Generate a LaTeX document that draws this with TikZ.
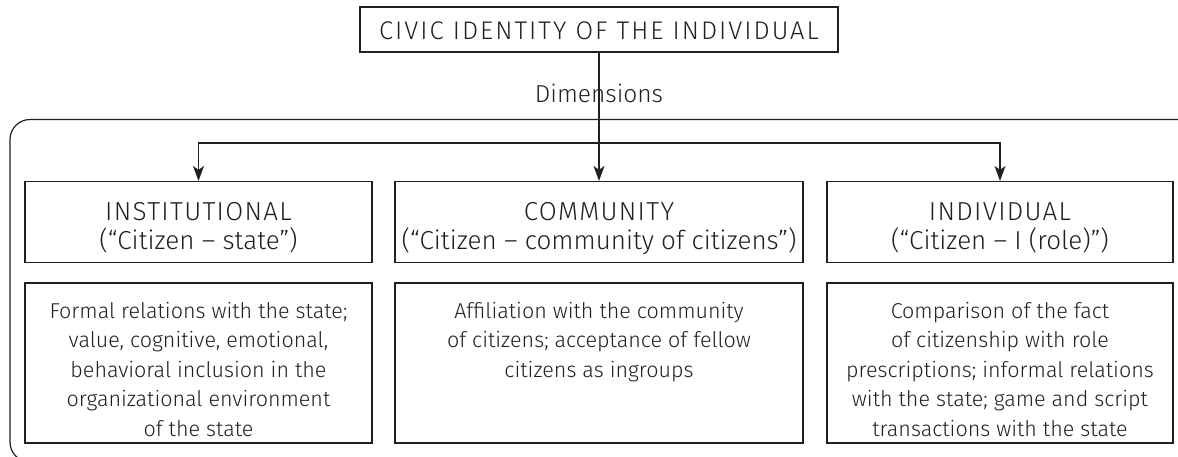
\documentclass[tikz,border=0pt]{standalone}
\usepackage{fontspec}
\setmainfont{Fira Sans Light}
\newfontfamily\capsfont[LetterSpace=8]{Fira Sans Light}
\newfontfamily\capsfontb[LetterSpace=5]{Fira Sans Light}
\usetikzlibrary{arrows.meta}
\definecolor{ink}{HTML}{231F20}
\begin{document}
\begin{tikzpicture}[x=1pt,y=-1pt,
  every node/.style={text=ink,font=\fontsize{20}{30}\selectfont},
  boxs/.style={draw=ink,line width=1.2pt,inner sep=0pt,minimum height=#1},
  txt/.style={align=center,inner sep=0pt,anchor=north},
  head/.style={txt,font=\fontsize{26}{29}\selectfont},
  body/.style={txt,font=\fontsize{21.5}{29.5}\selectfont},
  arr/.style={draw=ink,line width=1.2pt,-{Stealth[length=15pt,width=11pt,inset=4pt]}}]
\useasboundingbox (0,0) rectangle (1178,456);
\begin{scope}
\clip (0,0) rectangle (1178,456);
\draw[draw=ink,line width=1.2pt,rounded corners=20pt] (10,119.5) rectangle (1198,462);
\end{scope}
% top
\node[boxs=45pt,minimum width=478pt] (top) at (599,29.5) {};
\node[anchor=base,inner sep=0pt,font=\capsfont\fontsize{25.5}{27}\selectfont] (topt) at (599,39) {CIVIC IDENTITY OF THE INDIVIDUAL};
\node[anchor=base,inner sep=0pt,font=\fontsize{24.5}{26}\selectfont] (dim) at (599,102) {Dimensions};
% row 1
\node[boxs=81pt,minimum width=347pt] (l1) at (198.5,222) {};
\node[boxs=81pt,minimum width=408pt] (m1) at (599,222) {};
\node[boxs=81pt,minimum width=346pt] (r1) at (1000,222) {};
\node[head] (l1t) at (198.5,202) {{\capsfontb INSTITUTIONAL}\\(“Citizen – state”)};
\node[head] (m1t) at (599,202) {{\capsfontb COMMUNITY}\\(“Citizen – community of citizens”)};
\node[head] (r1t) at (1000,202) {{\capsfontb INDIVIDUAL}\\(“Citizen – I (role)”)};
% row 2
\node[boxs=160pt,minimum width=347pt] (l2) at (198.5,363) {};
\node[boxs=160pt,minimum width=408pt] (m2) at (599,363) {};
\node[boxs=160pt,minimum width=346pt] (r2) at (1000,363) {};
\node[body] (l2t) at (198.5,302) {Formal relations with the state;\\value, cognitive, emotional,\\behavioral inclusion in the\\organizational environment\\of the state};
\node[body] (m2t) at (599,302) {Affiliation with the community\\of citizens; acceptance of fellow\\citizens as ingroups};
\node[body] (r2t) at (1000,302) {Comparison of the fact\\of citizenship with role\\prescriptions; informal relations\\with the state; game and script\\transactions with the state};
% connectors
\coordinate (bus) at (599,143);
\draw[arr] (top.south) -- (m1.north);
\draw[arr] (bus) -| (l1.north);
\draw[arr] (bus) -| (r1.north);
\end{tikzpicture}
\end{document}
